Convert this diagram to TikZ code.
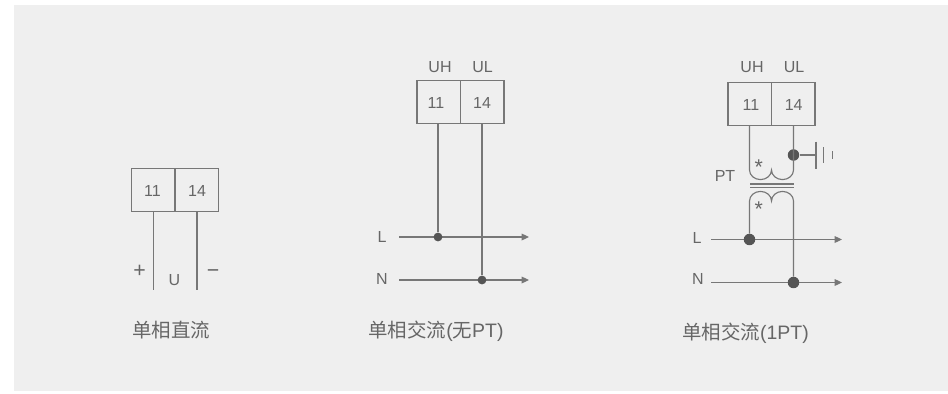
\documentclass[tikz,border=0pt]{standalone}
\usepackage{fontspec}
\setmainfont{Liberation Sans}
\newfontfamily\cjk{Noto Sans CJK SC}
\usetikzlibrary{arrows.meta}
\definecolor{bgc}{HTML}{EFEFEF}
\definecolor{linec}{HTML}{777777}
\definecolor{textc}{HTML}{666666}
\definecolor{dotc}{HTML}{555555}
\tikzset{
  x=0.75pt,y=-0.75pt,
  wire/.style={draw=linec,line width=0.85pt},
  cell/.style={draw=linec,line width=0.95pt,rectangle,minimum width=32.6pt,minimum height=32pt,inner sep=0pt},
  lbl/.style={text=textc,inner sep=0pt,font=\fontsize{12}{12}\selectfont},
  biglbl/.style={text=textc,inner sep=0pt,font=\fontsize{16}{16}\selectfont},
  captext/.style={text=textc,inner sep=0pt,font=\fontsize{14.6}{14.6}\selectfont},
  bigdot/.style={circle,fill=dotc,inner sep=0pt,minimum size=8.6pt},
  smalldot/.style={circle,fill=dotc,inner sep=0pt,minimum size=6.6pt},
  arrowwire/.style={wire,-{Triangle[length=5.5pt,width=5pt]}},
}
\begin{document}
\begin{tikzpicture}
\useasboundingbox (0,0) rectangle (948,393);
\fill[white] (0,0) rectangle (948,393);
\fill[bgc] (14,5) rectangle (948,391);

% --- left: single-phase DC
\node[cell] (a11) at (153.25,190) {};
\node[cell] (a14) at (196.75,190) {};
\node[lbl] (a11t) at (152.5,190.8) {11};
\node[lbl] (a14t) at (197,190.8) {14};
\coordinate (aend1) at (153.5,290);
\coordinate (aend2) at (197,290);
\draw[wire] (a11.south -| aend1) -- (aend1);
\draw[wire] (a14.south -| aend2) -- (aend2);
\node[biglbl] (aplus) at (139.5,271.5) {+};
\node[lbl] (au) at (174.5,279.8) {U};
\node[biglbl] (aminus) at (213,274) {−};
\node[captext] (acap) at (171,330) {\cjk 单相直流};

% --- middle: single-phase AC without PT
\node[cell] (b11) at (438.75,102) {};
\node[cell] (b14) at (482.25,102) {};
\node[lbl] (b11t) at (436,103) {11};
\node[lbl] (b14t) at (482,103) {14};
\node[lbl] (buh) at (440,67) {UH};
\node[lbl] (bul) at (482.5,67) {UL};
\node[lbl] (bl) at (382,237) {L};
\node[lbl] (bn) at (382,279) {N};
\coordinate (blstart) at (399,237);
\coordinate (blend) at (529,237);
\coordinate (bnstart) at (399,280);
\coordinate (bnend) at (529,280);
\draw[arrowwire] (blstart) -- (blend);
\draw[arrowwire] (bnstart) -- (bnend);
\node[smalldot] (bd1) at (438,237) {};
\node[smalldot] (bd2) at (482,280) {};
\draw[wire] (b11.south -| bd1) -- (bd1);
\draw[wire] (b14.south -| bd2) -- (bd2);
\node[captext] (bcap) at (436,331) {\cjk 单相交流\normalfont (\cjk 无\normalfont PT)};

% --- right: single-phase AC with 1 PT
\node[cell] (c11) at (749.75,104) {};
\node[cell] (c14) at (793.25,104) {};
\node[lbl] (c11t) at (751,104.8) {11};
\node[lbl] (c14t) at (793.7,104.8) {14};
\node[lbl] (cuh) at (752,67) {UH};
\node[lbl] (cul) at (794,67) {UL};
\node[lbl] (cpt) at (725,176) {PT};
\node[lbl] (cl) at (697,238) {L};
\node[lbl] (cn) at (698,279) {N};
\node[biglbl] (cs1) at (758.7,167.6) {*};
\node[biglbl] (cs2) at (758.7,209.6) {*};
\coordinate (clstart) at (711,239.5);
\coordinate (clend) at (842,239.5);
\coordinate (cnstart) at (711,282.5);
\coordinate (cnend) at (842,282.5);
\draw[arrowwire] (clstart) -- (clend);
\draw[arrowwire] (cnstart) -- (cnend);
\node[bigdot] (cd1) at (749.5,239.5) {};
\node[bigdot] (cd2) at (793.5,282.5) {};
\node[bigdot] (cdg) at (793.5,155) {};
% upper winding
\draw[wire] (c11.south -| cd1) -- (749.5,170)
  arc[start angle=180,end angle=360,x radius=8.25pt,y radius=7.2pt]
  arc[start angle=180,end angle=360,x radius=8.25pt,y radius=7.2pt]
  -- (c14.south -| cd2);
% core
\coordinate (core1l) at (750,184); \coordinate (core1r) at (794,184);
\coordinate (core2l) at (750,187.5); \coordinate (core2r) at (794,187.5);
\draw[wire] (core1l) -- (core1r);
\draw[wire] (core2l) -- (core2r);
% lower winding
\draw[wire] (cd1) -- (749.5,201)
  arc[start angle=180,end angle=0,x radius=8.25pt,y radius=7.2pt]
  arc[start angle=180,end angle=0,x radius=8.25pt,y radius=7.2pt]
  -- (cd2);
% earth
\coordinate (ge) at (816,155);
\draw[wire] (cdg) -- (ge);
\draw[wire] (816,141.5) -- (816,168.5);
\draw[wire] (823.5,147) -- (823.5,163);
\draw[wire] (832.5,151) -- (832.5,159);
\node[captext] (ccap) at (745.5,333) {\cjk 单相交流\normalfont (1PT)};
\end{tikzpicture}
\end{document}
